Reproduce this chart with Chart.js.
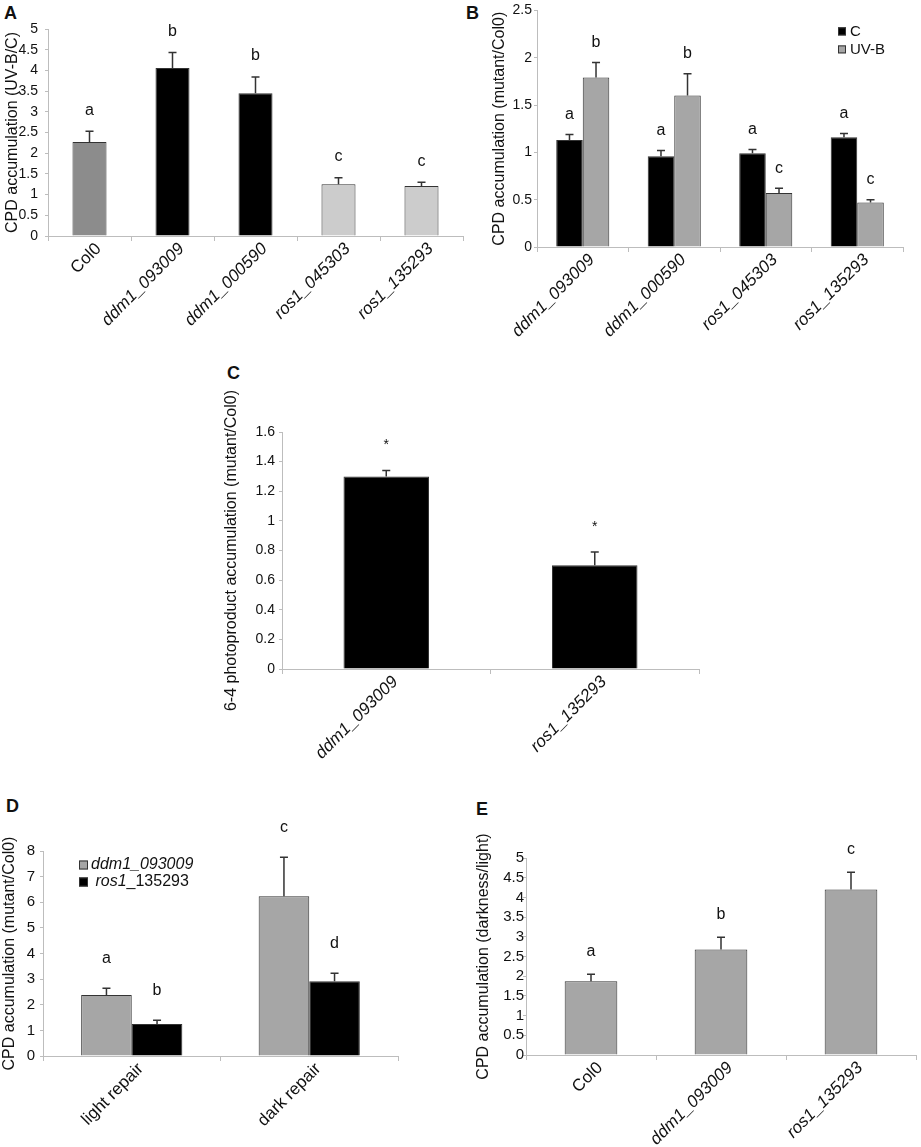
<!DOCTYPE html>
<html>
<head>
<meta charset="utf-8">
<script src="https://cdn.jsdelivr.net/npm/chart.js@4.4.1/dist/chart.umd.min.js"></script>
<style>
body { margin: 0; background: #fff; width: 921px; height: 1147px; position: relative; overflow: hidden; font-family: "Liberation Sans", Arial, sans-serif; }
.box { position: absolute; }
.tag { position: absolute; font-weight: bold; font-size: 18px; line-height: 18px; color: #111; }
</style>
</head>
<body>
<div class="tag" style="left:4px;top:4px">A</div>
<div class="tag" style="left:466px;top:4px">B</div>
<div class="tag" style="left:227px;top:364px">C</div>
<div class="tag" style="left:6px;top:797px">D</div>
<div class="tag" style="left:476px;top:800px">E</div>
<script>
// A: CPD accumulation UV-B/C
var aLabels = ['Col0', 'ddm1_093009', 'ddm1_000590', 'ros1_045303', 'ros1_135293'];
var aValues = [2.27, 4.06, 3.45, 1.25, 1.21];
var aErrors = [0.26, 0.37, 0.39, 0.16, 0.09];
var aLetters = ['a', 'b', 'b', 'c', 'c'];

// B: CPD accumulation mutant/Col0, control vs UV-B
var bLabels = ['ddm1_093009', 'ddm1_000590', 'ros1_045303', 'ros1_135293'];
var bControl = [1.13, 0.96, 0.99, 1.16];
var bControlErr = [0.06, 0.06, 0.04, 0.04];
var bControlLetters = ['a', 'a', 'a', 'a'];
var bUvb = [1.79, 1.60, 0.57, 0.47];
var bUvbErr = [0.16, 0.23, 0.05, 0.03];
var bUvbLetters = ['b', 'b', 'c', 'c'];

// C: 6-4 photoproducts
var cLabels = ['ddm1_093009', 'ros1_135293'];
var cValues = [1.30, 0.70];
var cErrors = [0.04, 0.09];
var cMarks = ['*', '*'];

// D: light / dark repair
var dLabels = ['light repair', 'dark repair'];
var dDdm1 = [2.38, 6.23];
var dDdm1Err = [0.26, 1.53];
var dDdm1Letters = ['a', 'c'];
var dRos1 = [1.25, 2.92];
var dRos1Err = [0.15, 0.31];
var dRos1Letters = ['b', 'd'];

// E: darkness/light
var eLabels = ['Col0', 'ddm1_093009', 'ros1_135293'];
var eValues = [1.87, 2.68, 4.20];
var eErrors = [0.18, 0.31, 0.44];
var eLetters = ['a', 'b', 'c'];

var FONT = '"Liberation Sans", Arial, sans-serif';
var AXIS = '#bdbdbd';
Chart.defaults.font.family = FONT;
Chart.defaults.color = '#111';

function isGene(s) { return /^(ddm1|ros1)/.test(s); }

// error bars (upper whisker only) + significance letters
var marksPlugin = {
  id: 'marks',
  afterDatasetsDraw: function(chart, args, opts) {
    var ctx = chart.ctx, y = chart.scales.y;
    chart.data.datasets.forEach(function(ds, i) {
      var meta = chart.getDatasetMeta(i);
      meta.data.forEach(function(bar, j) {
        var top = y.getPixelForValue(ds.data[j] + ds.errors[j]);
        ctx.save();
        ctx.strokeStyle = '#333';
        ctx.lineWidth = 1.5;
        ctx.beginPath();
        ctx.moveTo(bar.x, bar.y);
        ctx.lineTo(bar.x, top);
        ctx.moveTo(bar.x - 4, top);
        ctx.lineTo(bar.x + 4, top);
        ctx.stroke();
        ctx.fillStyle = '#111';
        ctx.font = opts.size + 'px ' + FONT;
        ctx.textAlign = 'center';
        ctx.textBaseline = 'middle';
        ctx.fillText(ds.marks[j], bar.x, top - opts.gap);
        ctx.restore();
      });
    });
  }
};

// small legend inside the plot area
var keyPlugin = {
  id: 'key',
  afterDraw: function(chart, args, opts) {
    if (!opts.items) return;
    var ctx = chart.ctx, a = chart.chartArea;
    opts.items.forEach(function(parts, i) {
      var ds = chart.data.datasets[i];
      var x = a.left + opts.dx, y = a.top + opts.dy + i * opts.step;
      ctx.save();
      ctx.fillStyle = ds.backgroundColor;
      ctx.strokeStyle = '#333';
      ctx.lineWidth = 1;
      ctx.fillRect(x, y - opts.box / 2, opts.box, opts.box);
      ctx.strokeRect(x + 0.5, y - opts.box / 2 + 0.5, opts.box - 1, opts.box - 1);
      ctx.fillStyle = '#111';
      ctx.textBaseline = 'middle';
      var tx = x + opts.box + opts.pad;
      parts.forEach(function(p) {
        ctx.font = (p.i ? 'italic ' : '') + opts.size + 'px ' + FONT;
        ctx.fillText(p.t, tx, y);
        tx += ctx.measureText(p.t).width;
      });
      ctx.restore();
    });
  }
};

function makePanel(cfg) {
  var bx = cfg.box, pa = cfg.plot;
  var div = document.createElement('div');
  div.className = 'box';
  div.style.left = bx[0] + 'px';
  div.style.top = bx[1] + 'px';
  div.style.width = bx[2] + 'px';
  div.style.height = bx[3] + 'px';
  var cv = document.createElement('canvas');
  cv.width = bx[2];
  cv.height = bx[3];
  cv.style.width = bx[2] + 'px';
  cv.style.height = bx[3] + 'px';
  div.appendChild(cv);
  document.body.appendChild(div);
  return new Chart(cv, {
    type: 'bar',
    data: { labels: cfg.labels, datasets: cfg.datasets },
    options: {
      responsive: false,
      animation: false,
      layout: { padding: { left: 0, top: pa[1] - bx[1], right: bx[0] + bx[2] - pa[2], bottom: 0 } },
      plugins: {
        legend: { display: false },
        tooltip: { enabled: false },
        marks: { size: cfg.markSize, gap: cfg.markGap },
        key: cfg.key || {}
      },
      scales: {
        x: {
          grid: { offset: true, drawOnChartArea: false, tickLength: 5, color: AXIS },
          border: { color: AXIS },
          ticks: {
            maxRotation: 45, minRotation: 45, padding: -2, labelOffset: 9, color: '#111',
            font: function(c) {
              var l = cfg.labels[c.index] || '';
              return { size: 17, family: FONT, style: isGene(l) ? 'italic' : 'normal' };
            }
          },
          afterFit: function(s) { s.height = bx[1] + bx[3] - pa[3]; }
        },
        y: {
          min: 0, max: cfg.yMax,
          grid: { drawOnChartArea: false, tickLength: 3, color: AXIS },
          border: { color: AXIS },
          ticks: {
            stepSize: cfg.step, autoSkip: false, padding: cfg.tickPad, color: '#111', font: { size: cfg.tickSize },
            callback: function(v) { return String(Math.round(v * 10) / 10); }
          },
          title: { display: true, text: cfg.title, color: '#111', font: { size: 16 }, padding: { top: cfg.titlePad, bottom: 0 } },
          afterFit: function(s) { s.width = pa[0] - bx[0]; }
        }
      }
    },
    plugins: [marksPlugin, keyPlugin]
  });
}

makePanel({
  box: [0, 0, 470, 345], plot: [48, 29, 463, 236],
  labels: aLabels, yMax: 5, step: 0.5, title: 'CPD accumulation (UV-B/C)', titlePad: 3,
  markSize: 16, markGap: 21, tickSize: 14, tickPad: 7,
  datasets: [{
    data: aValues, errors: aErrors, marks: aLetters,
    backgroundColor: ['#8c8c8c', '#000000', '#000000', '#cccccc', '#cccccc'],
    borderColor: '#333', borderWidth: 1, barPercentage: 0.41, categoryPercentage: 1
  }]
});

makePanel({
  box: [462, 0, 459, 345], plot: [537, 8, 903, 247],
  labels: bLabels, yMax: 2.5, step: 0.5, title: 'CPD accumulation (mutant/Col0)', titlePad: 28,
  markSize: 16, markGap: 20, tickSize: 14, tickPad: 2,
  key: { dx: 301, dy: 21, step: 18, box: 8, pad: 4, size: 15,
         items: [[{ t: 'C' }], [{ t: 'UV-B' }]] },
  datasets: [
    { label: 'C', data: bControl, errors: bControlErr, marks: bControlLetters,
      backgroundColor: '#000000', borderColor: '#333', borderWidth: 1, barPercentage: 1, categoryPercentage: 0.58 },
    { label: 'UV-B', data: bUvb, errors: bUvbErr, marks: bUvbLetters,
      backgroundColor: '#a6a6a6', borderColor: '#333', borderWidth: 1, barPercentage: 1, categoryPercentage: 0.58 }
  ]
});

makePanel({
  box: [220, 360, 490, 420], plot: [282, 432, 699, 669],
  labels: cLabels, yMax: 1.6, step: 0.2, title: '6-4 photoproduct accumulation (mutant/Col0)', titlePad: 2,
  markSize: 14, markGap: 25, tickSize: 14, tickPad: 4,
  datasets: [{
    data: cValues, errors: cErrors, marks: cMarks,
    backgroundColor: '#000000', borderColor: '#333', borderWidth: 1, barPercentage: 0.41, categoryPercentage: 1
  }]
});

makePanel({
  box: [0, 790, 460, 357], plot: [43, 851, 398, 1056],
  labels: dLabels, yMax: 8, step: 1, title: 'CPD accumulation (mutant/Col0)', titlePad: 0,
  markSize: 16, markGap: 30, tickSize: 15, tickPad: 5,
  key: { dx: 36, dy: 14, step: 17, box: 9, pad: 3, size: 16,
         items: [[{ t: 'ddm1_093009', i: true }], [{ t: ' ' }, { t: 'ros1', i: true }, { t: '_135293' }]] },
  datasets: [
    { label: 'ddm1_093009', data: dDdm1, errors: dDdm1Err, marks: dDdm1Letters,
      backgroundColor: '#a6a6a6', borderColor: '#333', borderWidth: 1, barPercentage: 1, categoryPercentage: 0.57 },
    { label: 'ros1_135293', data: dRos1, errors: dRos1Err, marks: dRos1Letters,
      backgroundColor: '#000000', borderColor: '#333', borderWidth: 1, barPercentage: 1, categoryPercentage: 0.57 }
  ]
});

makePanel({
  box: [462, 790, 459, 357], plot: [526, 858, 916, 1055],
  labels: eLabels, yMax: 5, step: 0.5, title: 'CPD accumulation (darkness/light)', titlePad: 12,
  markSize: 16, markGap: 23, tickSize: 15, tickPad: -1,
  datasets: [{
    data: eValues, errors: eErrors, marks: eLetters,
    backgroundColor: '#a6a6a6', borderColor: '#333', borderWidth: 1, barPercentage: 0.405, categoryPercentage: 1
  }]
});
</script>
</body>
</html>
